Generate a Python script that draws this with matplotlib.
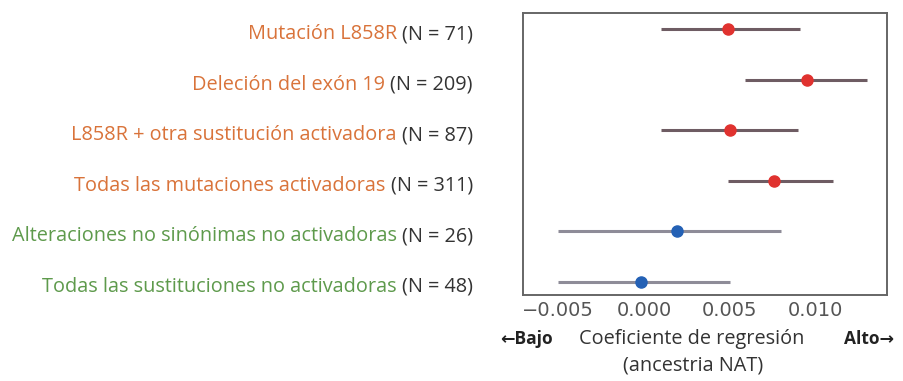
import matplotlib
matplotlib.use("Agg")
import matplotlib.pyplot as plt

categories = ["Mutación L858R", "Deleción del exón 19", "L858R + otra sustitución activadora",
              "Todas las mutaciones activadoras", "Alteraciones no sinónimas no activadoras",
              "Todas las sustituciones no activadoras"]
n_labels = ["(N = 71)", "(N = 209)", "(N = 87)", "(N = 311)", "(N = 26)", "(N = 48)"]
estimates = [0.0049, 0.0095, 0.0050, 0.0076, 0.0019, -0.0002]
ci_low = [0.0010, 0.0059, 0.0010, 0.0049, -0.0050, -0.0050]
ci_high = [0.0091, 0.0130, 0.0090, 0.0110, 0.0080, 0.0050]
groups = ["act", "act", "act", "act", "non", "non"]
xticks = [-0.005, 0.0, 0.005, 0.010]
xtick_labels = ["\u22120.005", "0.000", "0.005", "0.010"]

label_colors = {"act": "#D9733A", "non": "#5E9A4C"}
dot_colors = {"act": "#E0322F", "non": "#2461B5"}
line_colors = {"act": "#6E5C63", "non": "#8E8C98"}

W, H = 904, 381
fig = plt.figure(figsize=(W / 100, H / 100), dpi=100)
ax = fig.add_axes([523 / W, 1 - 295 / H, (887 - 523) / W, (295 - 13) / H])

for i, (e, lo, hi, g) in enumerate(zip(estimates, ci_low, ci_high, groups)):
    ax.plot([lo, hi], [i, i], color=line_colors[g], lw=2.2, solid_capstyle="butt", zorder=2)
    ax.plot(e, i, "o", color=dot_colors[g], ms=8, zorder=3)

ax.set_xlim(-0.00706, 0.01418)
ax.set_ylim(5.26, -0.32)
ax.set_yticks([])
ax.set_xticks(xticks)
ax.set_xticklabels(xtick_labels, fontsize=14, color="#555555", family="DejaVu Sans")
ax.tick_params(axis="x", length=0, pad=4)
for s in ax.spines.values():
    s.set_color("#666666")
    s.set_linewidth(1.4)

fig.canvas.draw()
renderer = fig.canvas.get_renderer()
font = ["Open Sans", "DejaVu Sans"]
fs = 14.3
x_right = 473 / W
for i, (cat, nl, g) in enumerate(zip(categories, n_labels, groups)):
    ypix = ax.transData.transform((0, i))[1] - 5
    yfig = ypix / H
    t = fig.text(x_right, yfig, nl, ha="right", va="center", fontsize=fs,
                 color="#333333", family=font)
    bb = t.get_window_extent(renderer)
    fig.text((bb.x0 - 5) / W, yfig, cat, ha="right", va="center", fontsize=fs,
             color=label_colors[g], family=font)

fig.text(500 / W, 1 - 339 / H, "\u2190Bajo", ha="left", va="center", fontsize=12.5,
         fontweight="bold", color="#222222", family=font)
fig.text(894 / W, 1 - 339 / H, "Alto\u2192", ha="right", va="center", fontsize=12.5,
         fontweight="bold", color="#222222", family=font)
fig.text(692 / W, 1 - 339 / H, "Coeficiente de regresión", ha="center", va="center",
         fontsize=fs, color="#333333", family=font)
fig.text(693 / W, 1 - 366 / H, "(ancestria NAT)", ha="center", va="center",
         fontsize=fs, color="#333333", family=font)

fig.savefig("out.png", dpi=100)
